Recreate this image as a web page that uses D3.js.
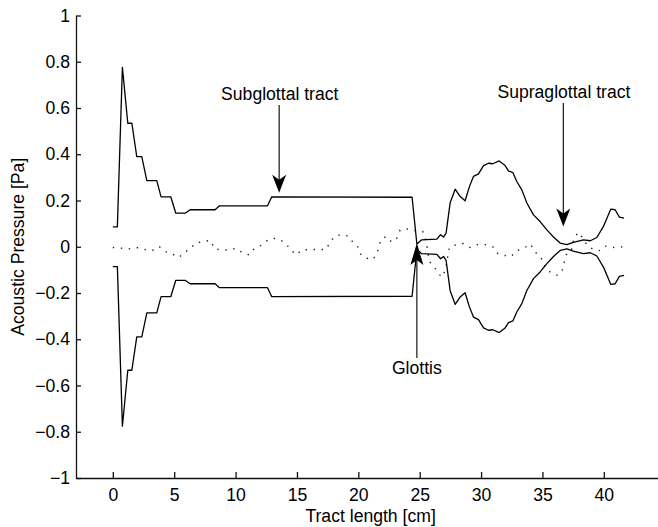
<!DOCTYPE html>
<meta charset="UTF-8">
<head>
    <title>Acoustic pressure along the tract</title>
    <style>
        body { margin: 0; background: #fff; }
        text { font-family: "Liberation Sans", Arial, Helvetica, sans-serif; }
    </style>
</head>
<body>
<svg width="658" height="527"></svg>
<script src="https://d3js.org/d3.v7.min.js"></script>
<script>

// Envelope of the pressure (upper side, lower side is its mirror).
var envX = [0, 0.37, 0.78, 1.22, 1.55, 1.95, 2.36, 2.77, 3.58, 3.93, 4.72, 5.13, 5.89, 6.3, 8.33,
    8.69, 12.6, 12.95, 24.38, 24.77, 25.17, 26.4, 26.7, 26.94, 27.15, 27.48, 27.89, 28.3, 28.7,
    29.05, 29.38, 29.79, 30.2, 30.6, 30.96, 31.47, 31.96, 32.23, 32.59, 32.91, 33.32, 33.73, 34.27,
    34.81, 35.36, 35.9, 36.44, 36.99, 37.52, 38.34, 38.9, 39.43, 39.97, 40.57, 40.92, 41.27, 41.65];
var envUpper = [0.086, 0.086, 0.776, 0.534, 0.534, 0.39, 0.39, 0.286, 0.286, 0.216, 0.216, 0.145, 0.145, 0.16, 0.16,
    0.177, 0.177, 0.216, 0.214, 0.012, 0.03, 0.033, 0.052, 0.042, 0.059, 0.19, 0.249, 0.217, 0.199,
    0.26, 0.304, 0.315, 0.351, 0.361, 0.359, 0.371, 0.351, 0.328, 0.321, 0.282, 0.246, 0.189, 0.138,
    0.109, 0.073, 0.042, 0.016, 0.009, 0.019, 0.03, 0.026, 0.04, 0.088, 0.163, 0.16, 0.128, 0.124];

// Instantaneous pressure (dotted).
var dotX = [0, 0.65, 1.33, 2.0, 2.63, 3.23, 3.77, 4.26, 4.86, 5.4, 5.78, 6.3, 6.7, 7.33, 7.98, 8.25,
    8.82, 9.42, 10.02, 10.56, 11.1, 11.54, 12.05, 12.55, 13.08, 13.68, 14.17, 14.5, 14.93, 15.4, 16.07,
    16.75, 17.35, 17.7, 18.03, 18.6, 19.2, 19.55, 19.93, 20.15, 20.58, 21.15, 21.45, 21.67, 21.83, 22.27,
    22.73, 23.13, 23.4, 24.0, 24.6, 25.25, 25.44, 25.58, 25.77, 26.12, 26.45, 26.8, 27.07, 27.42, 27.97,
    28.56, 29.1, 29.7, 30.33, 30.96, 31.28, 31.82, 32.45, 32.9, 33.5, 34.0, 34.32, 34.67, 35.03, 35.22,
    35.63, 36.25, 36.63, 36.77, 36.93, 37.34, 37.6, 38.0, 38.34, 38.66, 39.15, 39.7, 40.19, 40.73, 41.38, 41.65];
var dotY = [-0.003, -0.006, -0.009, -0.004, -0.012, -0.016, 0.001, -0.02, -0.032, -0.046, -0.026, -0.009, 0.014, 0.023, 0.027, -0.007,
    -0.014, -0.014, -0.007, -0.026, -0.035, -0.007, 0.005, 0.026, 0.037, 0.029, 0.009, -0.014, -0.035, -0.014, -0.012,
    -0.012, -0.012, 0.019, 0.043, 0.053, 0.046, 0.02, 0.003, -0.03, -0.048, -0.056, -0.037, -0.003, 0.03, 0.045,
    0.02, 0.037, 0.072, 0.077, 0.07, 0.066, 0.04, 0.006, -0.063, -0.081, -0.11, -0.132, -0.104, -0.003, 0.009,
    0.014, -0.003, 0.009, 0.009, 0, -0.027, -0.037, -0.042, -0.017, -0.006, 0.012, -0.013, -0.042, -0.056, -0.089,
    -0.11, -0.124, -0.099, -0.068, -0.035, -0.02, 0.045, 0.062, 0.03, 0.006, -0.012, -0.017, 0.003, -0.003, -0.001, 0];

var xTicks = [0, 5, 10, 15, 20, 25, 30, 35, 40];
var yTicks = [-1, -0.8, -0.6, -0.4, -0.2, 0, 0.2, 0.4, 0.6, 0.8, 1];

var svg = d3.select("svg");

var x = d3.scaleLinear().domain([-3, 45]).range([76, 665.2]);
var y = d3.scaleLinear().domain([-1, 1]).range([478, 15.5]);

var fmt = d3.format("~g");
var fs = 17.6; // font size

// axes
var gx = svg.append("g")
    .attr("transform", "translate(0," + y(-1) + ")")
    .call(d3.axisBottom(x).tickValues(xTicks).tickSizeInner(-6).tickSizeOuter(0).tickPadding(10.5));
var gy = svg.append("g")
    .attr("transform", "translate(" + x(-3) + ",0)")
    .call(d3.axisLeft(y).tickValues(yTicks).tickFormat(fmt).tickSizeInner(-5).tickSizeOuter(0).tickPadding(6));

svg.selectAll(".domain, .tick line").attr("stroke", "#111").attr("stroke-width", 1.3);
svg.selectAll(".tick text").attr("font-size", fs).attr("fill", "#000")
    .style("font-family", "'Liberation Sans', Arial, sans-serif");

svg.append("text")
    .attr("x", (x(-3) + x(45)) / 2)
    .attr("y", 521.5)
    .attr("text-anchor", "middle")
    .attr("font-size", fs)
    .text("Tract length [cm]");

svg.append("text")
    .attr("transform", "translate(24," + y(0) + ") rotate(-90)")
    .attr("text-anchor", "middle")
    .attr("font-size", fs)
    .text("Acoustic Pressure [Pa]");

// curves
var line = d3.line().x(function(d) { return x(d[0]); }).y(function(d) { return y(d[1]); });

var upper = envX.map(function(v, i) { return [v, envUpper[i]]; });
var lower = envX.map(function(v, i) { return [v, -envUpper[i]]; });
var inst = dotX.map(function(v, i) { return [v, dotY[i]]; });

svg.append("path").attr("d", line(inst))
    .attr("fill", "none").attr("stroke", "#222").attr("stroke-width", 1.4)
    .attr("stroke-dasharray", "1.4,6.6");

[upper, lower].forEach(function(pts) {
    svg.append("path").attr("d", line(pts))
        .attr("fill", "none").attr("stroke", "#000").attr("stroke-width", 1.3)
        .attr("stroke-linejoin", "round");
});

// annotations: arrow from a pixel y to a tip given in data coords
function arrow(tx, ty, fromY, headLen, headW) {
    var px = x(tx), py = y(ty);
    var dir = fromY < py ? -1 : 1;   // -1 => head points down
    svg.append("line")
        .attr("x1", px).attr("x2", px)
        .attr("y1", fromY).attr("y2", py + dir * 8)
        .attr("stroke", "#000").attr("stroke-width", 1.1);
    var back = py + dir * headLen, notch = py + dir * (headLen - 5);
    svg.append("path")
        .attr("d", "M" + px + "," + py + "L" + (px - headW / 2) + "," + back +
            "L" + px + "," + notch + "L" + (px + headW / 2) + "," + back + "Z")
        .attr("fill", "#000");
}

function label(tx, ty, str) {
    svg.append("text").attr("x", x(tx)).attr("y", ty)
        .attr("text-anchor", "middle").attr("font-size", fs).text(str);
}

label(13.6, 100, "Subglottal tract");
arrow(13.55, 0.233, 105, 18, 14);

label(36.75, 98, "Supraglottal tract");
arrow(36.7, 0.088, 103, 18, 14);

label(24.77, 374, "Glottis");
arrow(24.77, 0.016, 358, 22, 13);

</script>
</body>
